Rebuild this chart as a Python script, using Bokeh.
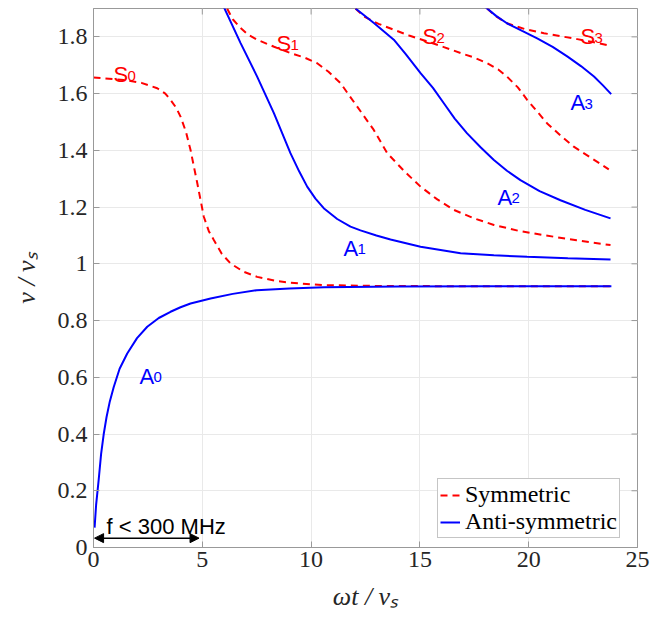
import math
from bokeh.plotting import figure
from bokeh.models import (Range1d, Label, Arrow, NormalHead, FixedTicker)
from bokeh.embed import file_html
from bokeh.resources import INLINE

# ---- data ----
s0_x = [0.0, 1.39, 2.2, 2.93, 3.3, 3.54, 3.8, 4.0, 4.25, 4.46, 4.77, 5.07, 5.3, 5.53, 5.9, 6.30, 6.9, 7.52, 8.3, 9.05, 10.6, 13.0, 17.0, 23.8]
s0_y = [1.657, 1.648, 1.638, 1.619, 1.600, 1.578, 1.550, 1.519, 1.465, 1.401, 1.284, 1.166, 1.115, 1.084, 1.035, 1.001, 0.972, 0.954, 0.941, 0.933, 0.925, 0.922, 0.921, 0.921]
s1_x = [6.14, 6.4, 6.76, 7.1, 7.52, 8.3, 9.05, 9.7, 10.28, 10.8, 11.35, 12.12, 12.88, 13.5, 14.3, 15.03, 15.8, 16.56, 17.5, 18.4, 19.5, 20.7, 22.2, 23.76]
s1_y = [1.90, 1.862, 1.831, 1.808, 1.790, 1.765, 1.743, 1.727, 1.707, 1.677, 1.637, 1.554, 1.472, 1.39, 1.325, 1.272, 1.227, 1.190, 1.160, 1.137, 1.117, 1.101, 1.083, 1.066]
s2_x = [12.04, 12.42, 13.1, 13.8, 14.5, 15.33, 16.1, 16.87, 17.5, 18.09, 18.6, 19.0, 19.5, 19.93, 20.4, 20.85, 21.45, 22.07, 22.9, 23.68]
s2_y = [1.90, 1.872, 1.846, 1.825, 1.805, 1.784, 1.764, 1.743, 1.727, 1.707, 1.685, 1.66, 1.622, 1.578, 1.536, 1.495, 1.453, 1.413, 1.372, 1.333]
s3_x = [18.09, 18.5, 19.0, 19.8, 20.7, 21.5, 22.23, 23.0, 23.79]
s3_y = [1.90, 1.872, 1.848, 1.828, 1.813, 1.802, 1.792, 1.781, 1.768]

a0_x = [0.05, 0.12, 0.24, 0.35, 0.47, 0.6, 0.75, 0.93, 1.2, 1.55, 2.0, 2.47, 3.0, 3.54, 4.0, 4.46, 5.38, 6.4, 7.5, 9.0, 10.6, 14.0, 18.0, 23.8]
a0_y = [0.07, 0.15, 0.24, 0.33, 0.40, 0.46, 0.515, 0.566, 0.630, 0.684, 0.738, 0.778, 0.809, 0.831, 0.847, 0.860, 0.878, 0.894, 0.907, 0.913, 0.917, 0.920, 0.921, 0.921]
a1_x = [5.99, 6.76, 7.52, 8.29, 9.05, 9.45, 9.82, 10.2, 10.58, 11.2, 11.81, 12.27, 13.0, 13.65, 15.03, 16.87, 18.4, 19.93, 21.8, 23.76]
a1_y = [1.905, 1.778, 1.660, 1.531, 1.390, 1.326, 1.272, 1.230, 1.196, 1.158, 1.131, 1.118, 1.100, 1.086, 1.060, 1.037, 1.030, 1.025, 1.020, 1.015]
a2_x = [12.04, 12.9, 13.8, 14.34, 15.03, 15.6, 16.1, 16.6, 17.17, 17.8, 18.4, 19.0, 19.62, 20.5, 21.46, 22.6, 23.76]
a2_y = [1.90, 1.848, 1.79, 1.74, 1.672, 1.620, 1.566, 1.512, 1.460, 1.410, 1.366, 1.328, 1.295, 1.256, 1.224, 1.190, 1.160]
a3_x = [18.01, 18.5, 19.0, 19.7, 20.39, 21.1, 21.77, 22.4, 23.0, 23.4, 23.79]
a3_y = [1.905, 1.874, 1.848, 1.821, 1.795, 1.765, 1.731, 1.697, 1.66, 1.630, 1.598]

mode_main = ["S", "S", "S", "S", "A", "A", "A", "A"]
mode_sub = ["0", "1", "2", "3", "0", "1", "2", "3"]
mode_x = [0.92, 8.41, 15.12, 22.38, 2.11, 11.49, 18.57, 21.92]
mode_y = [1.666, 1.776, 1.800, 1.800, 0.604, 1.055, 1.235, 1.567]

x_ticks = [0, 5, 10, 15, 20, 25]
y_ticks = [0, 0.2, 0.4, 0.6, 0.8, 1.0, 1.2, 1.4, 1.6, 1.8]
y_tick_labels = ["0", "0.2", "0.4", "0.6", "0.8", "1", "1.2", "1.4", "1.6", "1.8"]
X_MAX = 25
Y_MAX = 1.9

RED = "#ff0000"
BLUE = "#0000ff"
SERIF = "Liberation Serif"
SANS = "Liberation Sans"
AXC = "#999999"
TXT = "#262626"

p = figure(frame_width=544, frame_height=539, min_border_left=93, min_border_right=25,
           min_border_top=8, min_border_bottom=72,
           x_range=Range1d(0, X_MAX), y_range=Range1d(0, Y_MAX),
           output_backend="svg", toolbar_location=None, tools="")
p.outline_line_color = AXC
p.outline_line_width = 1
p.background_fill_color = "white"
p.border_fill_color = "white"

for ax in [p.xaxis[0], p.yaxis[0]]:
    ax.major_tick_in = 6
    ax.major_tick_out = 0
    ax.minor_tick_in = 0
    ax.minor_tick_out = 0
    ax.axis_line_color = AXC
    ax.major_tick_line_color = AXC
    ax.major_label_text_font = SERIF
    ax.major_label_text_font_size = "24px"
    ax.major_label_text_color = TXT
    ax.axis_label_text_font = SERIF
    ax.axis_label_text_font_size = "26px"
    ax.axis_label_text_font_style = "italic"
    ax.axis_label_text_color = TXT
p.xaxis[0].ticker = FixedTicker(ticks=x_ticks)
p.yaxis[0].ticker = FixedTicker(ticks=y_ticks)
p.yaxis[0].major_label_overrides = {t: l for t, l in zip(y_ticks, y_tick_labels)}
p.xaxis[0].major_label_standoff = 4
p.yaxis[0].major_label_standoff = 6
p.xaxis[0].axis_label = "ωt / vₛ"
p.yaxis[0].axis_label = "v / vₛ"
p.xaxis[0].axis_label_standoff = 12
p.yaxis[0].axis_label_standoff = 14

p.xgrid.ticker = FixedTicker(ticks=x_ticks)
p.ygrid.ticker = FixedTicker(ticks=y_ticks)
p.grid.grid_line_color = "#e9e9e9"
p.grid.grid_line_width = 1

# inward ticks on the top and right edges of the box (outer halves are clipped by the frame)
p.scatter(x_ticks, [Y_MAX] * len(x_ticks), marker="dash", size=12, angle=math.pi / 2,
          line_color=AXC, line_width=1)
p.scatter([X_MAX] * len(y_ticks), y_ticks, marker="dash", size=12, angle=0,
          line_color=AXC, line_width=1)

DASH = "7 5"
p.line(s0_x, s0_y, line_color=RED, line_width=2, line_dash=DASH, legend_label="Symmetric")
for xs, ys in [(s1_x, s1_y), (s2_x, s2_y), (s3_x, s3_y)]:
    p.line(xs, ys, line_color=RED, line_width=2, line_dash=DASH)
p.line(a0_x, a0_y, line_color=BLUE, line_width=2, legend_label="Anti-symmetric")
for xs, ys in [(a1_x, a1_y), (a2_x, a2_y), (a3_x, a3_y)]:
    p.line(xs, ys, line_color=BLUE, line_width=2)

for m, s, x, y in zip(mode_main, mode_sub, mode_x, mode_y):
    c = RED if m == "S" else BLUE
    p.add_layout(Label(x=x, y=y, text=m, text_font=SANS, text_font_size="22px",
                       text_color=c, text_baseline="alphabetic", text_align="left"))
    p.add_layout(Label(x=x, y=y, text=s, text_font=SANS, text_font_size="15px",
                       text_color=c, text_baseline="alphabetic", text_align="left",
                       x_offset=14, y_offset=-1))

# frequency range arrow
p.add_layout(Arrow(x_start=0.05, y_start=0.033, x_end=4.85, y_end=0.033,
                   line_color="black", line_width=1.5,
                   start=NormalHead(size=9, fill_color="black", line_color="black"),
                   end=NormalHead(size=9, fill_color="black", line_color="black")))
p.add_layout(Label(x=0.6, y=0.075, text="f < 300 MHz", text_font=SANS,
                   text_font_size="22px", text_color="black", text_baseline="alphabetic"))

lg = p.legend[0]
lg.location = (344, 9)
lg.border_line_color = "#8c8c8c"
lg.border_line_width = 1
lg.background_fill_color = "white"
lg.background_fill_alpha = 1
lg.label_text_font = SERIF
lg.label_text_font_size = "24px"
lg.label_text_color = "black"
lg.glyph_width = 20
lg.glyph_height = 18
lg.label_height = 20
lg.label_standoff = 5
lg.spacing = -3
lg.padding = 2
lg.margin = 0

open("out.html", "w").write(file_html(p, INLINE))
